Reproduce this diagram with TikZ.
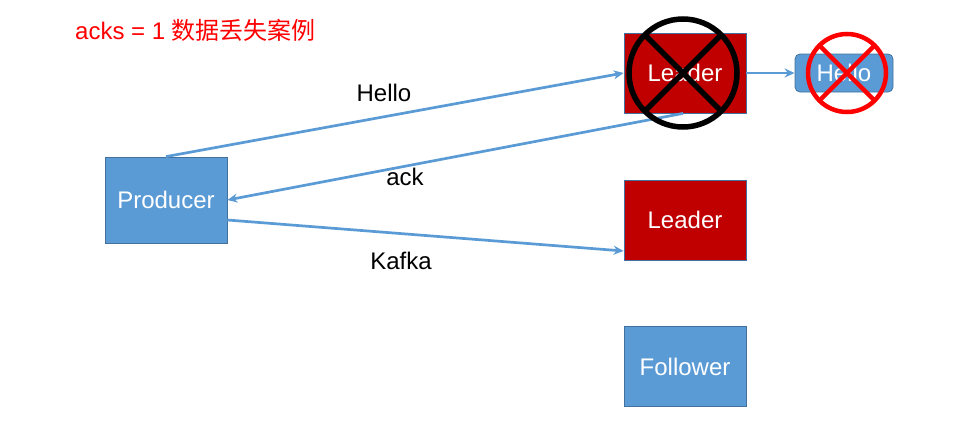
\documentclass[tikz,border=0pt]{standalone}
\usepackage{fontspec}
\setmainfont{Liberation Sans}
\newfontfamily\cjk{Noto Sans CJK SC}
\usetikzlibrary{arrows.meta}
\definecolor{pblue}{HTML}{5B9BD5}
\definecolor{pborder}{HTML}{41719C}
\definecolor{pred}{HTML}{C00000}
\begin{document}
\begin{tikzpicture}[x=1pt,y=-1pt,
  every node/.style={font=\fontsize{24}{28}\selectfont},
  box/.style={draw=pborder,line width=0.8pt,minimum width=122pt,minimum height=80pt,inner sep=0pt,text=white},
  bluebox/.style={box,fill=pblue},
  redbox/.style={box,fill=pred},
  conn/.style={draw=pblue,line width=2.7pt,-{Stealth[length=10pt,width=9pt]}},
  lbl/.style={text=black,inner sep=0pt}
]
\useasboundingbox (0,0) rectangle (960,434);
\node[text=red,anchor=west,inner sep=0pt] (title) at (75,30) {acks = 1 {\cjk 数据丢失案例}};
\node[bluebox,minimum height=86pt] (prod) at (166,200) {Producer};
\node[redbox] (L1) at (685,73) {Leader};
\node[redbox] (L2) at (685,220) {Leader};
\node[bluebox] (F) at (685,366.5) {Follower};
\node[bluebox,rounded corners=5pt,minimum width=98pt,minimum height=38pt] (H) at (844,73) {Hello};
\coordinate (kst) at ([yshift=-20pt]prod.east);
\coordinate (ken) at ([yshift=-31pt]L2.west);
\coordinate (ast) at ([xshift=-2pt]L1.south);
\draw[conn] (prod.north) -- (L1.west);
\draw[conn] (ast) -- (prod.east);
\draw[conn] (kst) -- (ken);
\draw[conn] (L1.east) -- (H.west);
\node[lbl] (lh) at (384,93) {Hello};
\node[lbl] (la) at (405,177) {ack};
\node[lbl] (lk) at (401,261) {Kafka};
% crosses
\coordinate (c1) at (683,73);
\draw[black,line width=5.5pt] (c1) circle[radius=54pt];
\draw[black,line width=5.5pt] ([shift={(-38pt,-38pt)}]c1) -- ([shift={(38pt,38pt)}]c1);
\draw[black,line width=5.5pt] ([shift={(38pt,-38pt)}]c1) -- ([shift={(-38pt,38pt)}]c1);
\coordinate (c2) at (847,73);
\draw[red,line width=4.5pt] (c2) circle[radius=39pt];
\draw[red,line width=4.5pt] ([shift={(-28pt,-28pt)}]c2) -- ([shift={(28pt,28pt)}]c2);
\draw[red,line width=4.5pt] ([shift={(28pt,-28pt)}]c2) -- ([shift={(-28pt,28pt)}]c2);
\end{tikzpicture}
\end{document}
